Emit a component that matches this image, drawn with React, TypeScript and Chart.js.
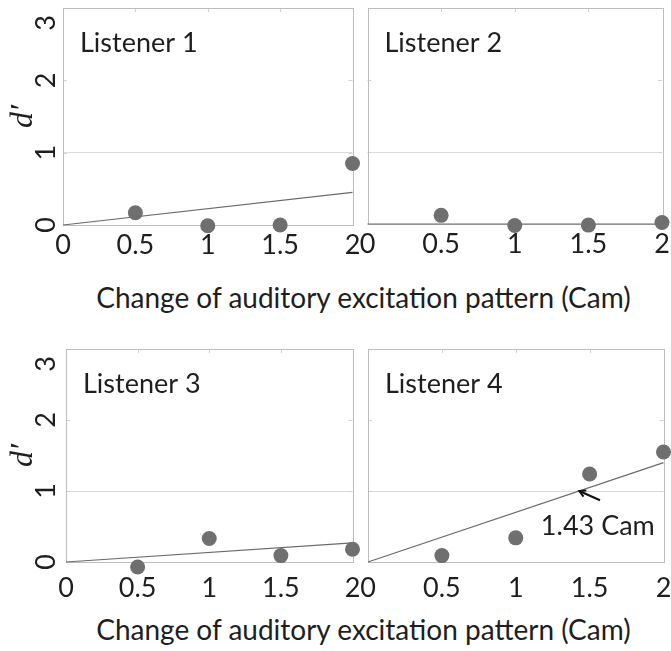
import React, { useEffect, useRef } from "react";
import { Chart, registerables } from "chart.js";

Chart.register(...registerables);

// ---- data ----
const conditionsCam = [0.5, 1, 1.5, 2];
const listener1 = [0.17, -0.01, 0.0, 0.85];
const listener2 = [0.12, -0.02, -0.015, 0.02];
const listener3 = [-0.07, 0.33, 0.09, 0.18];
const listener4 = [0.09, 0.34, 1.24, 1.55];
const fitX = [0, 2];
const fit1 = [0, 0.45];
const fit2 = [0, 0.0];
const fit3 = [0, 0.27];
const fit4 = [0, 1.4];
const panelNames = ["Listener 1", "Listener 2", "Listener 3", "Listener 4"];
const xTickStep = 0.5;
const yTickStep = 1;
const xRange = [0, 2];
const yRange = [0, 3];
const xAxisTitle = "Change of auditory excitation pattern (Cam)";
const yAxisTitle = "d\u2032";
const annotationText = "1.43 Cam";
const annotationTextAt = [1.17, 0.38];
const annotationArrowFrom = [1.57, 0.87];
const annotationArrowTo = [1.43, 1.0];

const series = [listener1, listener2, listener3, listener4];
const fits = [fit1, fit2, fit3, fit4];

// ---- layout ----
const layoutPanels = [
  { left: 0, top: 0, width: 360, height: 270, yWidth: 63, padRight: 6, padTop: 8, xHeight: 45, xPad: 4, yLabels: true },
  { left: 360, top: 0, width: 311, height: 270, yWidth: 7, padRight: 9, padTop: 8, xHeight: 46, xPad: 4, yLabels: false },
  { left: 0, top: 330, width: 360, height: 280, yWidth: 66, padRight: 6, padTop: 19, xHeight: 48, xPad: 10, yLabels: true },
  { left: 360, top: 330, width: 311, height: 280, yWidth: 8, padRight: 7, padTop: 19, xHeight: 48, xPad: 10, yLabels: false },
];

const FONT = "Lato";
const FS = 27;
const TEXT = "#1e1e1e";
const Y_LABEL_X = 46;

const decorPlugin = {
  id: "panelDecor",
  beforeDatasetsDraw(chart: any) {
    const { ctx, chartArea } = chart;
    const { left, right, top, bottom } = chartArea;
    const xs = chart.scales.x;
    const ys = chart.scales.y;
    ctx.save();
    ctx.strokeStyle = "#d2d2d2";
    ctx.lineWidth = 1;
    ctx.beginPath();
    for (const v of [0.5, 1, 1.5]) {
      const px = Math.round(xs.getPixelForValue(v)) + 0.5;
      ctx.moveTo(px, top);
      ctx.lineTo(px, top + 4);
    }
    for (const v of [1, 2]) {
      const py = Math.round(ys.getPixelForValue(v)) + 0.5;
      ctx.moveTo(left, py);
      ctx.lineTo(left + 4, py);
      ctx.moveTo(right, py);
      ctx.lineTo(right - 4, py);
    }
    ctx.stroke();
    ctx.strokeStyle = "#bdbdbd";
    ctx.strokeRect(Math.round(left) + 0.5, Math.round(top) + 0.5, Math.round(right - left), Math.round(bottom - top));
    ctx.restore();
  },
  afterDatasetsDraw(chart: any, _args: any, opts: any) {
    const { ctx, chartArea } = chart;
    const xs = chart.scales.x;
    const ys = chart.scales.y;
    ctx.save();
    ctx.fillStyle = TEXT;
    ctx.font = `${FS}px ${FONT}`;
    ctx.textBaseline = "alphabetic";
    ctx.textAlign = "left";
    ctx.fillText(opts.label, chartArea.left + 17, chartArea.top + 44);
    if (opts.yLabels) {
      ctx.textAlign = "center";
      ctx.textBaseline = "middle";
      for (const t of ys.ticks) {
        const py = Math.max(ys.getPixelForValue(t.value), chartArea.top + 15);
        ctx.save();
        ctx.translate(Y_LABEL_X, py);
        ctx.rotate(-Math.PI / 2);
        ctx.fillText(String(t.value), 0, 0);
        ctx.restore();
      }
      ctx.textAlign = "left";
      ctx.textBaseline = "alphabetic";
    }
    if (opts.annotate) {
      ctx.fillText(
        annotationText,
        xs.getPixelForValue(annotationTextAt[0]),
        ys.getPixelForValue(annotationTextAt[1])
      );
      const x0 = xs.getPixelForValue(annotationArrowFrom[0]);
      const y0 = ys.getPixelForValue(annotationArrowFrom[1]);
      const x1 = xs.getPixelForValue(annotationArrowTo[0]);
      const y1 = ys.getPixelForValue(annotationArrowTo[1]);
      const ang = Math.atan2(y1 - y0, x1 - x0);
      ctx.strokeStyle = "#111";
      ctx.lineWidth = 2;
      ctx.beginPath();
      ctx.moveTo(x0, y0);
      ctx.lineTo(x1, y1);
      ctx.stroke();
      ctx.beginPath();
      const h = 7;
      ctx.moveTo(x1 + h * Math.cos(ang + Math.PI - 0.5), y1 + h * Math.sin(ang + Math.PI - 0.5));
      ctx.lineTo(x1, y1);
      ctx.lineTo(x1 + h * Math.cos(ang + Math.PI + 0.5), y1 + h * Math.sin(ang + Math.PI + 0.5));
      ctx.stroke();
    }
    ctx.restore();
  },
};

function makeConfig(i: number): any {
  const L = layoutPanels[i];
  const pts = conditionsCam.map((x, k) => ({ x, y: series[i][k] }));
  const line = fitX.map((x, k) => ({ x, y: fits[i][k] }));
  return {
    type: "scatter",
    data: {
      datasets: [
        {
          data: pts,
          showLine: false,
          pointRadius: 7.5,
          pointHoverRadius: 7.5,
          backgroundColor: "#6f6f6f",
          borderColor: "#6f6f6f",
          borderWidth: 0,
          clip: false,
        },
        {
          data: line,
          showLine: true,
          pointRadius: 0,
          borderColor: "#6a6a6a",
          borderWidth: 1.2,
          backgroundColor: "transparent",
          clip: false,
        },
      ],
    },
    options: {
      responsive: false,
      animation: false,
      events: [],
      layout: { padding: { left: 0, top: L.padTop, right: L.padRight, bottom: 0 } },
      plugins: {
        legend: { display: false },
        tooltip: { enabled: false },
        panelDecor: { label: panelNames[i], annotate: i === 3, yLabels: L.yLabels },
      },
      scales: {
        x: {
          type: "linear",
          min: xRange[0],
          max: xRange[1],
          ticks: {
            stepSize: xTickStep,
            color: TEXT,
            font: { family: FONT, size: FS },
            padding: L.xPad,
            maxRotation: 0,
            autoSkip: false,
            callback: (v: number) => String(v),
          },
          grid: { display: false, drawTicks: false },
          border: { display: false },
          afterFit: (s: any) => {
            s.height = L.xHeight;
            s.paddingLeft = 0;
            s.paddingRight = 0;
          },
        },
        y: {
          type: "linear",
          min: yRange[0],
          max: yRange[1],
          ticks: {
            display: false,
            stepSize: yTickStep,
          },
          grid: {
            drawTicks: false,
            color: (c: any) => (c.tick && c.tick.value === 1 ? "#dcdcdc" : "rgba(0,0,0,0)"),
          },
          border: { display: false },
          title: {
            display: L.yLabels,
            text: yAxisTitle,
            color: TEXT,
            font: { family: "Liberation Serif", style: "italic", size: 32 },
            padding: { top: 4, bottom: 0 },
          },
          afterFit: (s: any) => {
            s.width = L.yWidth;
            s.paddingTop = 0;
            s.paddingBottom = 0;
          },
        },
      },
    },
    plugins: [decorPlugin],
  };
}

function Panel({ index }: { index: number }) {
  const ref = useRef<HTMLCanvasElement | null>(null);
  const L = layoutPanels[index];
  useEffect(() => {
    if (!ref.current) return;
    const chart = new Chart(ref.current, makeConfig(index));
    return () => chart.destroy();
  }, [index]);
  return (
    <canvas
      ref={ref}
      width={L.width}
      height={L.height}
      style={{ position: "absolute", left: L.left, top: L.top, width: L.width, height: L.height }}
    />
  );
}

export default function App() {
  const titleStyle = (top: number): React.CSSProperties => ({
    position: "absolute",
    left: 0,
    top,
    width: 727,
    textAlign: "center",
    fontFamily: FONT,
    fontSize: 28,
    lineHeight: "32px",
    color: TEXT,
    whiteSpace: "nowrap",
  });
  return (
    <div style={{ position: "absolute", left: 0, top: 0, width: 671, height: 651, background: "#fff", overflow: "hidden" }}>
      {layoutPanels.map((_, i) => (
        <Panel key={i} index={i} />
      ))}
      <div style={titleStyle(281)}>{xAxisTitle}</div>
      <div style={titleStyle(613)}>{xAxisTitle}</div>
    </div>
  );
}
